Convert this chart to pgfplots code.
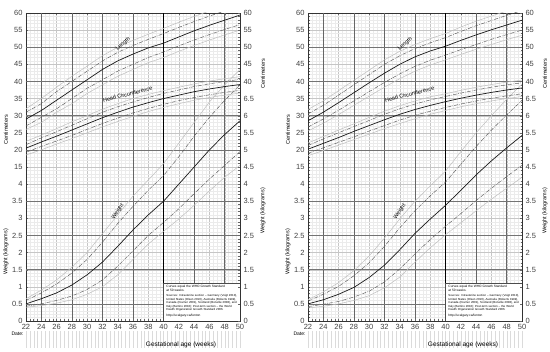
\documentclass[border=0pt]{standalone}
\usepackage{pgfplots}
\pgfplotsset{compat=1.18}
\usepackage{pgfplotstable}
\usepackage{fontspec}
\setmainfont{Liberation Sans}
\setsansfont{Liberation Sans}

% ---------------- Boys ----------------
\pgfplotstableread{
w p3 p10 p50 p90 p97
22 0.40 0.43 0.50 0.60 0.65
24 0.45 0.50 0.65 0.82 0.90
26 0.52 0.60 0.82 1.08 1.20
28 0.62 0.73 1.05 1.40 1.57
30 0.78 0.92 1.35 1.80 2.00
32 1.00 1.20 1.72 2.30 2.55
34 1.35 1.60 2.18 2.85 3.10
36 1.80 2.05 2.66 3.35 3.65
38 2.25 2.50 3.10 3.82 4.12
40 2.62 2.88 3.50 4.25 4.60
42 2.98 3.28 4.00 4.80 5.20
44 3.38 3.72 4.50 5.40 5.80
46 3.80 4.15 5.00 5.95 6.40
48 4.20 4.55 5.45 6.45 6.90
50 4.55 4.95 5.85 6.90 7.35
}\bwt
\pgfplotstableread{
w p3 p10 p50 p90 p97
22 26.0 27.0 29.0 31.0 32.0
24 28.0 29.5 31.5 33.5 35.0
26 31.0 32.0 34.5 37.0 38.3
28 33.5 35.0 37.5 40.0 41.5
30 36.5 38.0 40.5 43.0 44.5
32 39.0 40.5 43.5 46.0 47.5
34 41.5 43.0 46.0 48.5 50.0
36 43.5 45.0 48.0 50.5 52.0
38 45.5 47.0 49.8 52.3 53.8
40 47.0 48.6 51.2 54.0 55.5
42 48.8 50.4 53.0 55.8 57.3
44 50.5 52.1 54.8 57.5 59.0
46 52.1 53.7 56.4 59.1 60.6
48 53.6 55.2 57.9 60.6 62.1
50 55.0 56.6 59.4 62.1 63.6
}\blen
\pgfplotstableread{
w p3 p10 p50 p90 p97
22 18.5 19.3 20.5 21.5 22.5
24 20.0 21.0 22.3 23.5 24.3
26 21.7 22.6 24.0 25.3 26.2
28 23.3 24.2 25.8 27.2 28.2
30 25.0 26.0 27.6 29.1 30.0
32 26.7 27.7 29.4 31.0 31.9
34 28.3 29.3 31.0 32.6 33.5
36 29.8 30.8 32.5 34.0 35.0
38 31.2 32.1 33.8 35.3 36.2
40 32.4 33.3 35.0 36.5 37.3
42 33.5 34.4 36.0 37.5 38.3
44 34.5 35.3 37.0 38.5 39.3
46 35.3 36.1 37.8 39.3 40.1
48 36.0 36.8 38.5 40.0 40.8
50 36.6 37.4 39.1 40.6 41.4
}\bhc
% ---------------- Girls ----------------
\pgfplotstableread{
w p3 p10 p50 p90 p97
22 0.38 0.42 0.50 0.58 0.62
24 0.43 0.49 0.62 0.78 0.85
26 0.50 0.57 0.78 1.01 1.12
28 0.60 0.70 0.98 1.32 1.47
30 0.74 0.87 1.27 1.70 1.90
32 0.97 1.14 1.63 2.18 2.42
34 1.28 1.52 2.08 2.72 2.98
36 1.72 1.96 2.56 3.22 3.50
38 2.14 2.38 2.98 3.66 3.95
40 2.52 2.77 3.38 4.06 4.38
42 2.87 3.14 3.82 4.58 4.95
44 3.22 3.52 4.27 5.10 5.50
46 3.56 3.88 4.68 5.58 6.00
48 3.88 4.22 5.06 6.02 6.48
50 4.20 4.55 5.42 6.45 6.92
}\gwt
\pgfplotstableread{
w p3 p10 p50 p90 p97
22 25.5 26.7 28.5 30.5 31.8
24 27.8 29.0 31.0 33.0 34.3
26 30.3 31.6 33.8 36.0 37.3
28 33.0 34.3 36.7 39.0 40.3
30 35.7 37.0 39.6 42.0 43.3
32 38.3 39.7 42.4 45.0 46.3
34 40.8 42.2 45.0 47.5 48.8
36 43.0 44.4 47.2 49.6 50.8
38 44.8 46.2 48.9 51.3 52.5
40 46.3 47.7 50.3 52.8 54.0
42 47.9 49.3 52.0 54.6 55.9
44 49.4 50.8 53.6 56.3 57.6
46 50.8 52.3 55.1 57.8 59.1
48 52.2 53.7 56.5 59.3 60.6
50 53.5 55.0 57.9 60.7 62.1
}\glen
\pgfplotstableread{
w p3 p10 p50 p90 p97
22 18.3 19.0 20.2 21.3 22.0
24 19.8 20.6 21.9 23.2 23.9
26 21.4 22.2 23.6 25.0 25.8
28 23.0 23.8 25.4 26.8 27.6
30 24.6 25.5 27.1 28.6 29.5
32 26.2 27.1 28.8 30.4 31.3
34 27.7 28.7 30.4 32.0 32.9
36 29.1 30.1 31.8 33.4 34.3
38 30.4 31.3 33.0 34.6 35.5
40 31.5 32.4 34.1 35.6 36.4
42 32.6 33.4 35.1 36.6 37.4
44 33.5 34.3 36.0 37.5 38.3
46 34.3 35.1 36.8 38.3 39.1
48 35.0 35.8 37.5 39.0 39.8
50 35.6 36.4 38.1 39.6 40.4
}\ghc

\pgfplotsset{
  c3/.style={gray!50, line width=0.5pt},
  c10/.style={black!65, line width=0.45pt, dash pattern=on 4pt off 1.2pt on 0.6pt off 1.2pt},
  c50/.style={black!90, line width=0.7pt},
  base/.style={scale only axis, width=214pt, height=308pt,
    xmin=22, xmax=50, ymin=0, ymax=18,
    /pgf/number format/assume math mode=true,
    tick label style={font=\fontsize{7.5}{8}\selectfont, black!75},
    axis line style={black!80, line width=0.5pt},
    tick style={black!60, line width=0.3pt},
    major tick length=2pt, minor tick length=1.5pt},
}

\newcommand{\fivecurves}[3]{%
  \addplot[c3]  table[x=w, y expr=\thisrow{p3}*#2+#3]  {#1};
  \addplot[c10] table[x=w, y expr=\thisrow{p10}*#2+#3] {#1};
  \addplot[c50] table[x=w, y expr=\thisrow{p50}*#2+#3] {#1};
  \addplot[c10] table[x=w, y expr=\thisrow{p90}*#2+#3] {#1};
  \addplot[c3]  table[x=w, y expr=\thisrow{p97}*#2+#3] {#1};
}

\newcommand{\panel}[5]{%
\begin{axis}[base, at={(#1,31pt)}, anchor=south west,
   xtick={22,24,...,50}, minor x tick num=3,
   ytick={0,...,18}, minor y tick num=4,
   yticklabels={0,0.5,1,1.5,2,2.5,3,3.5,4,15,20,25,30,35,40,45,50,55,60},
   grid=both,
   major grid style={gray!45, line width=0.3pt},
   minor grid style={gray!16, line width=0.2pt},
   extra x ticks={24,28,32,36,44,48}, extra x tick labels={},
   extra x tick style={grid=major, major grid style={black!60, line width=0.6pt}},
   extra y ticks={1,3,5,7,10,12,14,16}, extra y tick labels={},
   extra y tick style={grid=major, major grid style={black!55, line width=0.55pt}},
   ]
  \draw[black, line width=1pt] (axis cs:40,0) -- (axis cs:40,18);
  \fivecurves{#3}{2}{0}
  \fivecurves{#4}{0.2}{6}
  \fivecurves{#5}{0.2}{6}
  \draw[black!70, line width=0.4pt, fill=white] (axis cs:40,0) rectangle (axis cs:50,2.2);
  \node[anchor=north west, align=left, inner sep=0pt, text width=71pt,
        font=\fontsize{2.9}{3.5}\selectfont] at (axis cs:40.35,2.08)
     {{\fontsize{3.2}{3.9}\selectfont Curves equal the WHO Growth Standard\\at 50 weeks.}\\[2pt]
      \raggedright Sources: Intrauterine section -- Germany (Voigt 2010), United States (Olsen 2010), Australia (Roberts 1999), Canada (Kramer 2001), Scotland (Bonellie 2008), and Italy (Bertino 2010); Post-term section -- the World Health Organization Growth Standard 2006.\\[2.5pt]
      {\fontsize{3.2}{3.9}\selectfont http://ucalgary.ca/fenton}};
  \node[rotate=40, font=\fontsize{5.5}{6}\selectfont, inner sep=0.5pt] at (axis cs:34.7,16.2) {Length};
  \node[rotate=14, font=\fontsize{5.5}{6}\selectfont, inner sep=0.5pt] at (axis cs:35.3,13.25) {Head Circumference};
  \node[rotate=56, font=\fontsize{5.5}{6}\selectfont, inner sep=0.5pt] at (axis cs:34.0,6.4) {Weight};
  \node[anchor=south east, font=\fontsize{5.5}{6}\selectfont, inner sep=0pt] at (axis cs:49.8,18.15) {Fenton preterm growth chart - #2};
\end{axis}
\begin{axis}[base, at={(#1,31pt)}, anchor=south west,
   axis x line=none, axis y line*=right,
   ytick={0,...,18},
   yticklabels={0,0.5,1,1.5,2,2.5,3,3.5,4,4.5,5,5.5,6,6.5,40,45,50,55,60},
   ]
  \addplot[draw=none] coordinates {(22,0)};
\end{axis}
\foreach \k in {0,...,56} {
  \draw[gray!28, line width=0.25pt] ({#1+\k*214pt/56},21pt) -- ++(0,-17pt);
}
\node[anchor=center, font=\fontsize{6.5}{7}\selectfont] at ({#1+155pt},7pt) {Gestational age (weeks)};
\node[anchor=west, font=\fontsize{5}{6}\selectfont] at ({#1-18pt},18pt) {Date:};
\node[rotate=90, font=\fontsize{5.5}{6}\selectfont] at ({#1-20pt},222pt) {Centimeters};
\node[rotate=90, font=\fontsize{5.5}{6}\selectfont] at ({#1-20pt},100pt) {Weight (kilograms)};
\node[rotate=90, font=\fontsize{5.5}{6}\selectfont] at ({#1+237pt},278pt) {Centimeters};
\node[rotate=90, font=\fontsize{5.5}{6}\selectfont] at ({#1+237pt},141pt) {Weight (kilograms)};
}

\begin{document}
\begin{tikzpicture}
\useasboundingbox (0,0) rectangle (550pt,352pt);
\panel{26pt}{boys}{\bwt}{\blen}{\bhc}
\panel{308pt}{girls}{\gwt}{\glen}{\ghc}
\end{tikzpicture}
\end{document}
